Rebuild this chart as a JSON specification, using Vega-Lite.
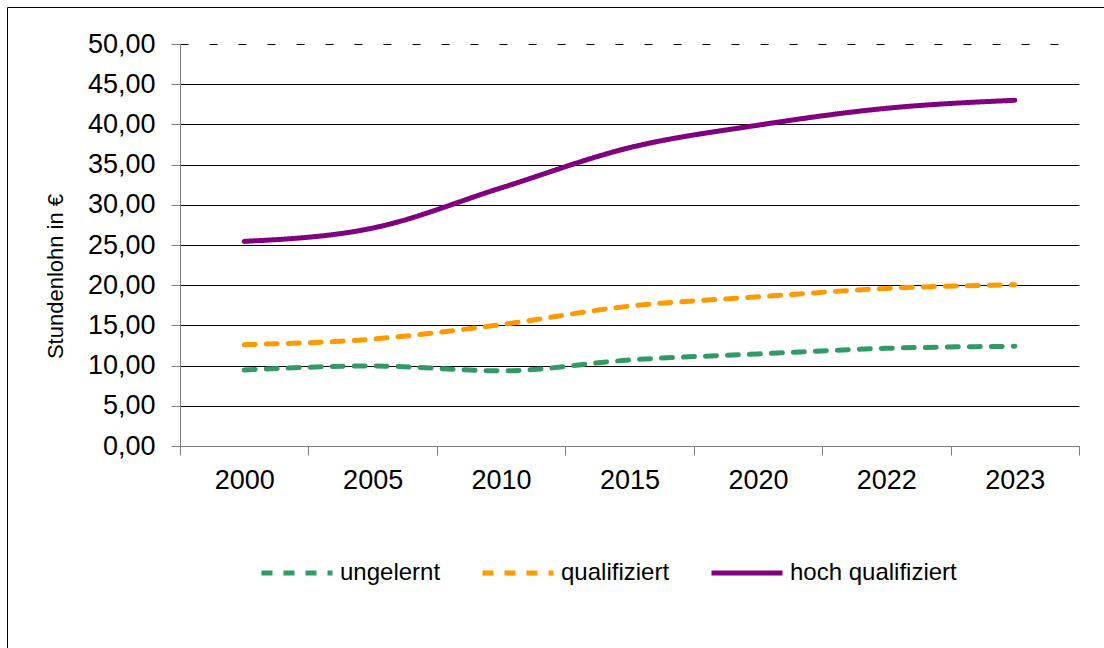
{
  "$schema": "https://vega.github.io/schema/vega-lite/v6.json",
  "width": 1100,
  "height": 645,
  "autosize": {"type": "none"},
  "padding": {"left": 7, "top": 7, "right": -3, "bottom": -4},
  "background": "white",
  "config": {"view": {"stroke": "#000", "strokeWidth": 1}, "font": "Liberation Sans"},
  "data": {
    "values": [
      {"year": "2000", "series": "ungelernt", "value": 9.45},
      {"year": "2005", "series": "ungelernt", "value": 9.95},
      {"year": "2010", "series": "ungelernt", "value": 9.35},
      {"year": "2015", "series": "ungelernt", "value": 10.7},
      {"year": "2020", "series": "ungelernt", "value": 11.45},
      {"year": "2022", "series": "ungelernt", "value": 12.15},
      {"year": "2023", "series": "ungelernt", "value": 12.4},
      {"year": "2000", "series": "qualifiziert", "value": 12.6},
      {"year": "2005", "series": "qualifiziert", "value": 13.3},
      {"year": "2010", "series": "qualifiziert", "value": 15.1},
      {"year": "2015", "series": "qualifiziert", "value": 17.4},
      {"year": "2020", "series": "qualifiziert", "value": 18.55},
      {"year": "2022", "series": "qualifiziert", "value": 19.6},
      {"year": "2023", "series": "qualifiziert", "value": 20.05},
      {"year": "2000", "series": "hoch qualifiziert", "value": 25.45},
      {"year": "2005", "series": "hoch qualifiziert", "value": 27.1},
      {"year": "2010", "series": "hoch qualifiziert", "value": 32.1},
      {"year": "2015", "series": "hoch qualifiziert", "value": 37.1},
      {"year": "2020", "series": "hoch qualifiziert", "value": 39.9},
      {"year": "2022", "series": "hoch qualifiziert", "value": 42.0},
      {"year": "2023", "series": "hoch qualifiziert", "value": 43.0}
    ]
  },
  "mark": {"type": "line", "interpolate": "monotone", "strokeWidth": 5, "strokeCap": "round"},
  "encoding": {
    "x": {
      "field": "year",
      "type": "ordinal",
      "sort": null,
      "scale": {"type": "band", "paddingInner": 0, "paddingOuter": 0, "range": [173, 1072]},
      "axis": {
        "title": null,
        "offset": -206,
        "labelAngle": 0,
        "labelFontSize": 27,
        "labelColor": "#000",
        "labelPadding": 12,
        "tickBand": "extent",
        "tickSize": 9,
        "tickColor": "#808080",
        "domainColor": "#808080",
        "grid": false
      }
    },
    "y": {
      "field": "value",
      "type": "quantitative",
      "scale": {"domain": [0, 50], "nice": false, "range": [439, 37]},
      "axis": {
        "title": "Stundenlohn in €",
        "offset": -173,
        "titleFontSize": 22,
        "titleFontWeight": "normal",
        "titleColor": "#000",
        "titlePadding": 20,
        "titleY": 269,
        "values": [0, 5, 10, 15, 20, 25, 30, 35, 40, 45, 50],
        "labelExpr": "replace(format(datum.value, '.2f'), '.', ',')",
        "labelFontSize": 27,
        "labelColor": "#000",
        "labelPadding": 16,
        "tickSize": 9,
        "tickColor": "#808080",
        "domainColor": "#808080",
        "grid": true,
        "gridColor": "#000",
        "gridOpacity": 1,
        "gridDash": {"condition": {"test": "datum.value == 50", "value": [8, 21]}, "value": []}
      }
    },
    "color": {
      "field": "series",
      "type": "nominal",
      "scale": {"domain": ["ungelernt", "qualifiziert", "hoch qualifiziert"], "range": ["#339966", "#FF9900", "#800080"]},
      "legend": {
        "title": null,
        "orient": "none",
        "legendX": 252,
        "legendY": 528,
        "direction": "horizontal",
        "symbolType": "stroke",
        "symbolSize": 5041,
        "symbolStrokeWidth": 5,
        "labelFontSize": 24,
        "labelColor": "#000",
        "labelLimit": 0,
        "labelOffset": 5,
        "columnPadding": 31,
        "padding": 0
      }
    },
    "strokeDash": {
      "field": "series",
      "type": "nominal",
      "scale": {"domain": ["ungelernt", "qualifiziert", "hoch qualifiziert"], "range": [[11, 11], [11, 11], [1, 0]]},
      "legend": {
        "title": null,
        "orient": "none",
        "legendX": 252,
        "legendY": 528,
        "direction": "horizontal",
        "symbolType": "stroke",
        "symbolSize": 5041,
        "symbolStrokeWidth": 5,
        "labelFontSize": 24,
        "labelColor": "#000",
        "labelLimit": 0,
        "labelOffset": 5,
        "columnPadding": 31,
        "padding": 0
      }
    }
  }
}
